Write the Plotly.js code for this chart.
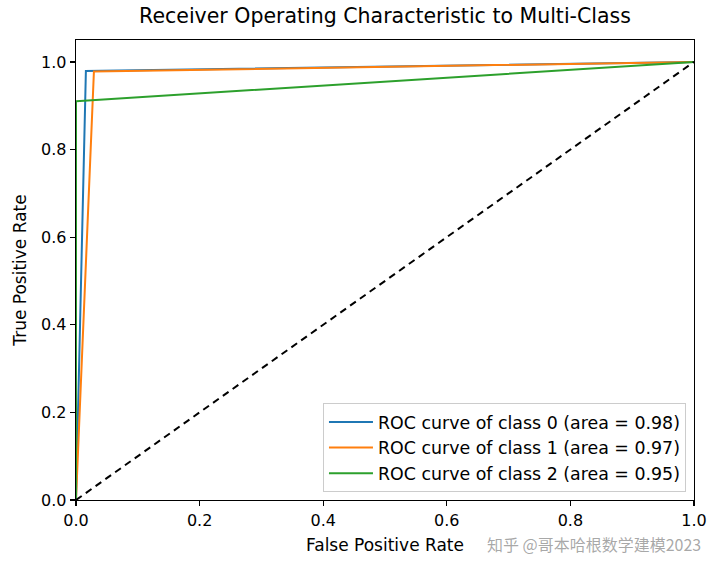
<!DOCTYPE html>
<html>
<head>
<meta charset="utf-8">
<script src="https://cdn.plot.ly/plotly-3.0.1.min.js"></script>
<style>html,body{margin:0;padding:0;background:#fff;}#chart{width:720px;height:567px;}</style>
</head>
<body>
<div id="chart"></div>
<script>
const class0_fpr = [0, 0.016, 1];
const class0_tpr = [0, 0.979, 1];
const class1_fpr = [0, 0.029, 1];
const class1_tpr = [0, 0.978, 1];
const class2_fpr = [0, 0, 1];
const class2_tpr = [0, 0.91, 1];
const diag_x = [0, 1];
const diag_y = [0, 1];
const names = [
  "ROC curve of class 0 (area = 0.98)",
  "ROC curve of class 1 (area = 0.97)",
  "ROC curve of class 2 (area = 0.95)"
];
const colors = ["#1f77b4", "#ff7f0e", "#2ca02c"];
const xTicks = [0, 0.2, 0.4, 0.6, 0.8, 1.0];
const xTickText = ["0.0", "0.2", "0.4", "0.6", "0.8", "1.0"];
const yTicks = [0, 0.2, 0.4, 0.6, 0.8, 1.0];
const yTickText = ["0.0", "0.2", "0.4", "0.6", "0.8", "1.0"];

const fprs = [class0_fpr, class1_fpr, class2_fpr];
const tprs = [class0_tpr, class1_tpr, class2_tpr];
const traces = fprs.map((f, i) => ({
  x: f, y: tprs[i], mode: "lines", name: names[i],
  line: {color: colors[i], width: 2}
}));
traces.push({x: diag_x, y: diag_y, mode: "lines", showlegend: false,
  line: {color: "black", width: 2, dash: "7px,5px"}});

const axisCommon = {
  showgrid: false, zeroline: false, showline: true, mirror: true,
  linecolor: "black", linewidth: 1.3, ticks: "outside", ticklen: 5,
  tickcolor: "black", tickwidth: 1.2,
  tickfont: {size: 16, color: "black"}
};
const layout = {
  width: 720, height: 567,
  margin: {l: 76, r: 26, t: 40, b: 67},
  paper_bgcolor: "white", plot_bgcolor: "white",
  font: {family: "DejaVu Sans", color: "black"},
  title: {text: "Receiver Operating Characteristic to Multi-Class",
    font: {size: 20.5, family: "DejaVu Sans"}, x: 0.5, xref: "paper", xanchor: "center", y: 0.985, yanchor: "top"},
  xaxis: Object.assign({}, axisCommon, {
    range: [0, 1], tickvals: xTicks, ticktext: xTickText,
    title: {text: "False Positive Rate", font: {size: 17}, standoff: 10}
  }),
  yaxis: Object.assign({}, axisCommon, {
    range: [0, 1.05], tickvals: yTicks, ticktext: yTickText,
    title: {text: "True Positive Rate", font: {size: 17}, standoff: 10}
  }),
  legend: {
    x: 0.987, y: 0.017, xanchor: "right", yanchor: "bottom",
    bgcolor: "rgba(255,255,255,0.8)", bordercolor: "#cccccc", borderwidth: 1,
    font: {size: 17.4, color: "black"}, tracegroupgap: 0, itemwidth: 44
  },
  annotations: [{
    text: "知乎 @哥本哈根数学建模2023", xref: "paper", yref: "paper",
    x: 1.015, y: -0.0957, xanchor: "right", yanchor: "middle", showarrow: false,
    font: {size: 16, color: "rgba(110,110,110,0.6)", family: "Noto Sans CJK SC"}
  }]
};
Plotly.newPlot("chart", traces, layout, {displayModeBar: false, staticPlot: true});
</script>
</body>
</html>
